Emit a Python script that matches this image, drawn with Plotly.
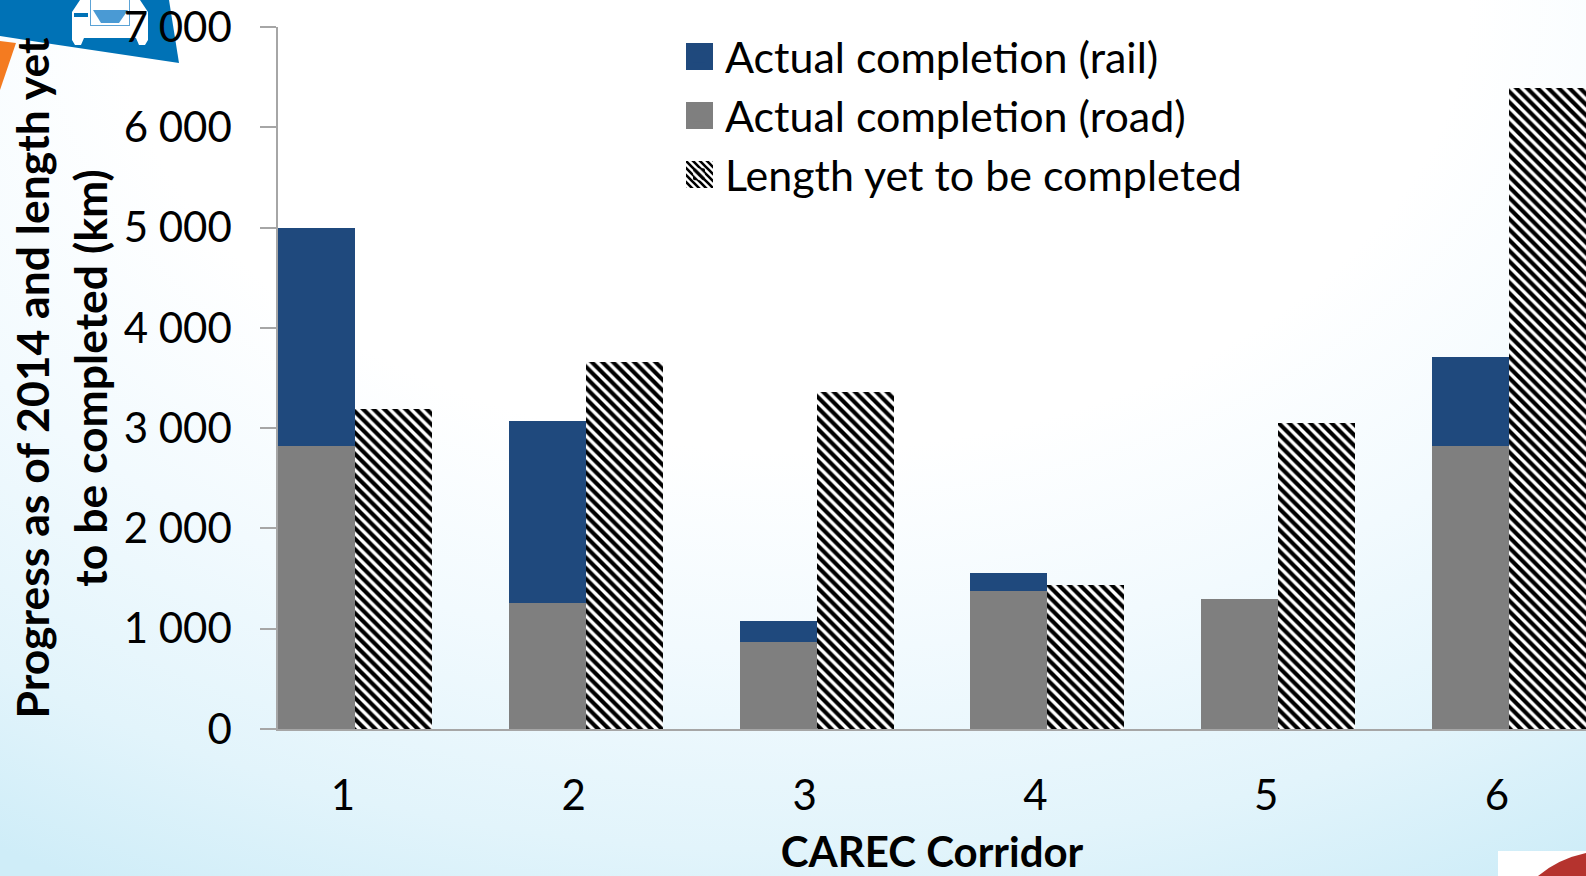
import base64
import plotly.graph_objects as go

categories = ["1", "2", "3", "4", "5", "6"]
corridor = [1, 2, 3, 4, 5, 6]
road = [2825, 1260, 867, 1380, 1300, 2825]
rail = [2170, 1815, 213, 175, 0, 885]
remaining = [3190, 3660, 3360, 1440, 3050, 6395]
y_ticks = [0, 1000, 2000, 3000, 4000, 5000, 6000, 7000]
y_labels = ["0", "1 000", "2 000", "3 000", "4 000", "5 000", "6 000", "7 000"]

W, H = 1586, 876
L, R, T, B = 278, 1586, 27, 729
FONT = "Lato"


def px(x):
    return (x - L) / (R - L)


def py(y):
    return (B - y) / (B - T)


def poly(points, color):
    d = "M" + "L".join(f"{px(x):.5f},{py(y):.5f}" for x, y in points) + "Z"
    return dict(type="path", xref="paper", yref="paper", path=d, fillcolor=color,
                line=dict(width=0), layer="below")


def svg_uri(svg):
    return "data:image/svg+xml;base64," + base64.b64encode(svg.encode()).decode()


bg_svg = f'''<svg xmlns="http://www.w3.org/2000/svg" width="{W}" height="{H}">
<defs><radialGradient id="g" gradientUnits="userSpaceOnUse" cx="0" cy="0" r="1"
 gradientTransform="translate({W/2} 0) scale(1500 1000)">
<stop offset="0" stop-color="#ffffff"/><stop offset="0.45" stop-color="#ffffff"/>
<stop offset="0.65" stop-color="#f2fafe"/><stop offset="0.85" stop-color="#e2f4fb"/>
<stop offset="1" stop-color="#cfedf8"/>
</radialGradient></defs><rect width="{W}" height="{H}" fill="url(#g)"/></svg>'''

hatch_svg = '''<svg xmlns="http://www.w3.org/2000/svg" width="27" height="27">
<defs><pattern id="p" width="7" height="7" patternUnits="userSpaceOnUse">
<rect width="7" height="7" fill="#fff"/>
<path d="M-1,-1L8,8M-1,6L1,8M6,-1L8,1" stroke="#000" stroke-width="2.6"/></pattern></defs>
<rect width="27" height="27" fill="url(#p)"/></svg>'''

images = [
    dict(source=svg_uri(bg_svg), xref="paper", yref="paper", x=px(0), y=py(0),
         sizex=W / (R - L), sizey=H / (B - T), sizing="stretch", xanchor="left",
         yanchor="top", layer="below"),
    dict(source=svg_uri(hatch_svg), xref="paper", yref="paper", x=px(686), y=py(161),
         sizex=27 / (R - L), sizey=27 / (B - T), sizing="stretch", xanchor="left",
         yanchor="top", layer="above"),
]

shapes = [
    poly([(0, 36), (0, 0), (169, 0), (179, 63), (45, 43)], "#0072b6"),
    poly([(0, 41), (16, 43), (0, 90)], "#f47b20"),
    # truck
    poly([(80, 0), (140, 0), (148, 12), (148, 40), (145, 45), (139, 45), (136, 38), (84, 38),
          (81, 45), (75, 45), (72, 40), (72, 12)], "#ffffff"),
    poly([(90, 0), (130, 0), (130, 26), (90, 26)], "#5ba3d6"),
    poly([(91, 0), (129, 0), (129, 25), (91, 25)], "#ffffff"),
    poly([(93, 10), (128, 10), (119, 23), (101, 23)], "#4a9ad4"),
    poly([(74, 13), (88, 13), (88, 17), (74, 17)], "#0072b6"),
    # lower-right logo
    poly([(1498, 851), (1586, 851), (1586, 876), (1498, 876)], "#ffffff"),
    dict(type="path", xref="paper", yref="paper", fillcolor="#b5332e", line=dict(width=0),
         layer="below",
         path=f"M{px(1538):.5f},{py(876):.5f}Q{px(1558):.5f},{py(859):.5f} {px(1586):.5f},{py(853):.5f}"
              f"L{px(1586):.5f},{py(876):.5f}Z"),
    # enlarged legend swatches behind the native ones
    dict(type="rect", xref="paper", yref="paper", x0=px(686), x1=px(713), y0=py(43), y1=py(70),
         fillcolor="#1f497d", line=dict(width=0), layer="above"),
    dict(type="rect", xref="paper", yref="paper", x0=px(686), x1=px(713), y0=py(102), y1=py(129),
         fillcolor="#7f7f7f", line=dict(width=0), layer="above"),
]

fig = go.Figure()
fig.add_bar(name="Actual completion (rail)", x=corridor, y=rail, base=road, offset=-1 / 3,
            width=1 / 3, marker=dict(color="#1f497d", line_width=0))
fig.add_bar(name="Actual completion (road)", x=corridor, y=road, offset=-1 / 3, width=1 / 3,
            marker=dict(color="#7f7f7f", line_width=0))
fig.add_bar(name="Length yet to be completed", x=corridor, y=remaining, offset=0, width=1 / 3,
            marker=dict(color="#ffffff", line_width=0, opacity=1,
                        pattern=dict(shape="\\", size=7.5, solidity=0.55, fgopacity=1,
                                     fillmode="replace", fgcolor="#000000", bgcolor="#ffffff")))

fig.update_layout(
    width=W, height=H, autosize=False, barmode="overlay", bargap=0,
    margin=dict(l=L, r=W - R, t=T, b=H - B, pad=0),
    paper_bgcolor="#ffffff", plot_bgcolor="rgba(0,0,0,0)",
    font=dict(family=FONT, color="#000000", size=42),
    images=images, shapes=shapes,
    showlegend=True,
    legend=dict(x=px(673), y=py(22), xanchor="left", yanchor="top", bgcolor="rgba(0,0,0,0)",
                font=dict(size=43, family=FONT), traceorder="normal", itemwidth=42),
    xaxis=dict(range=[2 / 3, 6 + 1 / 3], tickmode="array", tickvals=corridor, ticktext=categories,
               showgrid=False, zeroline=False, showline=True, linecolor="#a6a6a6", linewidth=1.5,
               ticks="", ticklabelstandoff=29, ticklabelshift=-12, automargin=False,
               tickfont=dict(size=42, family=FONT),
               title=dict(text="<b>CAREC Corridor</b>", font=dict(size=42, family=FONT), standoff=32)),
    yaxis=dict(range=[0, 7000], tickmode="array", tickvals=y_ticks, ticktext=y_labels,
               showgrid=False, zeroline=False, showline=True, linecolor="#a6a6a6", linewidth=1.5,
               ticks="outside", ticklen=16, tickwidth=1.5, tickcolor="#a6a6a6", automargin=False,
               ticklabelstandoff=20, tickfont=dict(size=42, family=FONT),
               title=dict(text="<b>Progress as of 2014 and length yet<br>to be completed (km)</b>",
                          font=dict(size=44.5, family=FONT), standoff=2)),
)

fig.write_html("out.html", config=dict(displayModeBar=False),
               post_script="document.body.style.margin='0';document.body.style.overflow='hidden';")
